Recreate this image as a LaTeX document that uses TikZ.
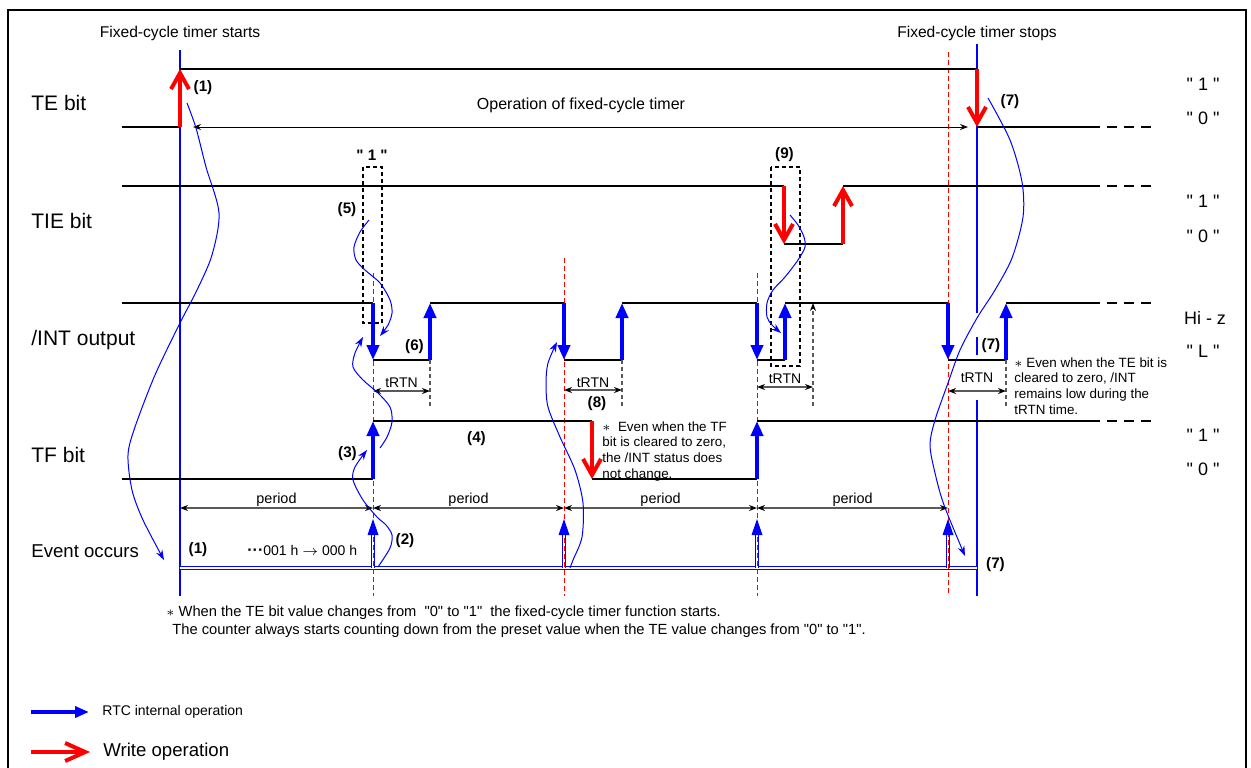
\documentclass[tikz,border=0pt]{standalone}
\usepackage{fontspec}
\setmainfont{Liberation Sans}
\usetikzlibrary{arrows.meta}

\newcommand{\fsz}[1]{\fontsize{#1}{#1}\selectfont}
\newcommand{\qt}{\textquotedbl}

\begin{document}
\begin{tikzpicture}[x=0.5pt,y=-0.5pt]
\tikzstyle{every node}+=[inner sep=0pt]
\tikzstyle{wire}=[black,line width=1pt]
\tikzstyle{wiretail}=[black,line width=1pt,dash pattern=on 5pt off 3.5pt]
\tikzstyle{timeline}=[blue,line width=0.6pt]
\tikzstyle{eventmark}=[red,line width=0.5pt,dash pattern=on 2.5pt off 1.5pt]
\tikzstyle{wrarrow}=[red,line width=2pt,-{Straight Barb[length=8pt,width=9pt]}]
\tikzstyle{rtcarrow}=[blue,line width=2pt,-{Triangle[length=7.5pt,width=6pt]}]
\tikzstyle{evline}=[blue,line width=0.6pt,double=white,double distance=1pt]
\tikzstyle{evshaft}=[blue,line width=0.5pt,double=white,double distance=1pt]
\tikzstyle{dimline}=[gray!70!black,line width=0.7pt,{Stealth[black,length=4pt,width=3pt]}-{Stealth[black,length=4pt,width=3pt]}]
\tikzstyle{dimext}=[gray!70!black,line width=0.6pt,dash pattern=on 2pt off 1.5pt]
\tikzstyle{oparrow}=[black,line width=0.5pt,{Stealth[length=4pt,width=3pt]}-{Stealth[length=4pt,width=3pt]}]
\tikzstyle{hint}=[blue,line width=0.5pt,-{Stealth[length=5pt,width=3.5pt]}]
\tikzstyle{markbox}=[black,line width=1pt,dash pattern=on 2pt off 1.5pt]
\tikzstyle{stepno}=[font=\fsz{7.6}\bfseries]
\tikzstyle{rowname}=[anchor=base west,font=\fsz{10.5}]
\tikzstyle{levelname}=[anchor=base,font=\fsz{9}]
\tikzstyle{smalltext}=[anchor=base,font=\fsz{7}]
\tikzstyle{remark}=[anchor=base west,align=left,font=\fontsize{6.7}{7.8}\selectfont]
\useasboundingbox (0,0) rectangle (1251,767);
% frame
\draw [black,line width=1pt] (8,775) -- (8,10) -- (1246,10) -- (1246,775);
% start and stop of the fixed-cycle timer
\draw [timeline] (180,50) -- (180,596);
\draw [timeline] (977,44) -- (977,313);
\draw [timeline] (977,337) -- (977,355);
\draw [timeline] (977,400) -- (977,596);
\draw (180,37) node[smalltext,font=\fsz{7.8}] (tstart) {Fixed-cycle timer starts};
\draw (977,37) node[smalltext,font=\fsz{7.8}] (tstop) {Fixed-cycle timer stops};
% row names
\draw (31,110) node[rowname] (nTE) {TE bit};
\draw (31,228) node[rowname] (nTIE) {TIE bit};
\draw (31,345) node[rowname] (nINT) {/INT output};
\draw (31,462) node[rowname] (nTF) {TF bit};
\draw (31,557) node[rowname,font=\fsz{9.3}] (nEV) {Event occurs};
% levels
\draw (1203,90) node[levelname] (vTEh) {\qt\ 1 \qt};
\draw (1203,124) node[levelname] (vTEl) {\qt\ 0 \qt};
\draw (1203,207) node[levelname] (vTIEh) {\qt\ 1 \qt};
\draw (1203,242) node[levelname] (vTIEl) {\qt\ 0 \qt};
\draw (1205,324) node[levelname] (vINTh) {Hi - z};
\draw (1203,357) node[levelname] (vINTl) {\qt\ L \qt};
\draw (1203,441) node[levelname] (vTFh) {\qt\ 1 \qt};
\draw (1203,475) node[levelname] (vTFl) {\qt\ 0 \qt};
% event line
\draw [evline] (180,568) -- (977,568);
\draw [evshaft] (373,568) -- (373,534);
\draw [evshaft] (564,568) -- (564,534);
\draw [evshaft] (757,568) -- (757,534);
\draw [evshaft] (948,568) -- (948,534);
% periods
\draw [eventmark] (373,273) -- (373,596);
\draw [eventmark] (564,258) -- (564,596);
\draw [eventmark] (757,273) -- (757,596);
\draw [eventmark] (948,52) -- (948,596);
\fill [blue] (373,519) -- (367.5,535) -- (378.5,535) -- cycle;
\fill [blue] (564,519) -- (558.5,535) -- (569.5,535) -- cycle;
\fill [blue] (757,519) -- (751.5,535) -- (762.5,535) -- cycle;
\fill [blue] (948,519) -- (942.5,535) -- (953.5,535) -- cycle;
% TE bit
\draw [wire] (122,127) -- (180,127);
\draw [wire] (180,69) -- (977,69);
\draw [wire] (977,127) -- (1090,127);
\draw [wiretail] (1090,127) -- (1157,127);
\draw [wrarrow] (180,127) -- (180,69);
\draw [wrarrow] (977,69) -- (977,127);
\draw [oparrow] (193,127) -- (968,127);
\draw (581,109) node[anchor=base,font=\fsz{8}] (opname) {Operation of fixed-cycle timer};
% TIE bit
\draw [wire] (122,186) -- (784,186);
\draw [wire] (784,244) -- (843,244);
\draw [wire] (843,186) -- (1090,186);
\draw [wiretail] (1090,186) -- (1157,186);
\draw [wrarrow] (784,186) -- (784,244);
\draw [wrarrow] (843,244) -- (843,186);
\draw [markbox] (363,167) rectangle (382,323);
\draw [markbox] (771,167) rectangle (800,366);
% /INT output
\draw [wire] (122,303) -- (373,303);
\draw [wire] (373,360) -- (430,360);
\draw [wire] (430,303) -- (564,303);
\draw [wire] (564,360) -- (622,360);
\draw [wire] (622,303) -- (757,303);
\draw [wire] (757,360) -- (785,360);
\draw [wire] (785,303) -- (948,303);
\draw [wire] (948,360) -- (1006,360);
\draw [wire] (1006,303) -- (1090,303);
\draw [wiretail] (1090,303) -- (1157,303);
\draw [rtcarrow] (373,303) -- (373,360);
\draw [rtcarrow] (430,360) -- (430,303);
\draw [rtcarrow] (564,303) -- (564,360);
\draw [rtcarrow] (622,360) -- (622,303);
\draw [rtcarrow] (757,303) -- (757,360);
\draw [rtcarrow] (785,360) -- (785,303);
\draw [rtcarrow] (948,303) -- (948,360);
\draw [rtcarrow] (1006,360) -- (1006,303);
% tRTN
\draw [dimext] (430,360) -- (430,406);
\draw [dimext] (622,360) -- (622,406);
\draw [dimext,-{Stealth[black,length=4pt,width=3pt]}] (813,406) -- (813,303);
\draw [dimext] (1006,360) -- (1006,406);
\draw [dimline] (373,391) -- (430,391);
\draw [dimline] (564,390) -- (622,390);
\draw [dimline] (757,387) -- (813,387);
\draw [dimline] (948,391) -- (1006,391);
\draw (401.5,387) node[smalltext] (tr1) {tRTN};
\draw (593,387) node[smalltext] (tr2) {tRTN};
\draw (785,383) node[smalltext] (tr3) {tRTN};
\draw (977,382) node[smalltext] (tr4) {tRTN};
% TF bit
\draw [wire] (122,479) -- (373,479);
\draw [wire] (373,421) -- (592,421);
\draw [wire] (592,479) -- (757,479);
\draw [wire] (757,421) -- (1090,421);
\draw [wiretail] (1090,421) -- (1157,421);
\draw [rtcarrow] (373,479) -- (373,421);
\draw [wrarrow] (592,421) -- (592,479);
\draw [rtcarrow] (757,479) -- (757,421);
% period
\draw [dimline] (180,508) -- (373,508);
\draw [dimline] (373,508) -- (564,508);
\draw [dimline] (564,508) -- (757,508);
\draw [dimline] (757,508) -- (948,508);
\draw (276.5,503) node[smalltext,font=\fsz{7.2}] (pd1) {period};
\draw (468.5,503) node[smalltext,font=\fsz{7.2}] (pd2) {period};
\draw (660.5,503) node[smalltext,font=\fsz{7.2}] (pd3) {period};
\draw (852.5,503) node[smalltext,font=\fsz{7.2}] (pd4) {period};
% step numbers
\draw (203,87.5) node[stepno] (s1a) {(1)};
\draw (1010,101.5) node[stepno] (s7a) {(7)};
\draw (372,155) node[stepno] (s1box) {\qt\ 1 \qt};
\draw (784.5,155) node[stepno] (s9) {(9)};
\draw (347,209.5) node[stepno] (s5) {(5)};
\draw (414.5,346.5) node[stepno] (s6) {(6)};
\draw (991,345.5) node[stepno] (s7b) {(7)};
\draw (597,403.5) node[stepno] (s8) {(8)};
\draw (347.5,453.5) node[stepno] (s3) {(3)};
\draw (476.5,438.5) node[stepno] (s4) {(4)};
\draw (198,550) node[stepno] (s1b) {(1)};
\draw (405,540.5) node[stepno] (s2) {(2)};
\draw (995.5,564.5) node[stepno] (s7c) {(7)};
\draw (247,555) node[anchor=base west,font=\fsz{7}] (cnt) {{\bfseries\fsz{8}\textperiodcentered\textperiodcentered\textperiodcentered}001 h $\rightarrow$ 000 h};
% remarks (anchored at the last line)
\draw (602,478) node[remark] (note8) {$\ast$\ \ Even when the TF\\bit is cleared to zero,\\the /INT status does\\not change.};
\draw (1014,414) node[remark] (note7) {$\ast$ Even when the TE bit is\\cleared to zero, /INT\\remains low during the\\tRTN time.};
\draw (166,616) node[anchor=base west,font=\fsz{7.35}] (fn1) {$\ast$ When the TE bit value changes from \ \qt0\qt\ to \qt1\qt\ \ the fixed-cycle timer function starts.};
\draw (172,634) node[anchor=base west,font=\fsz{7.35}] (fn2) {The counter always starts counting down from the preset value when the TE value changes from \qt0\qt\ to \qt1\qt.};
% how one step leads to the next
\coordinate (h1a) at (187,103);
\coordinate (h1b) at (164,560);
\coordinate (h5a) at (369,220);
\coordinate (h5b) at (380,336);
\coordinate (h2a) at (378,567);
\coordinate (h2b) at (367,450);
\coordinate (h3a) at (380,448);
\coordinate (h3b) at (363,337);
\coordinate (h4a) at (570,568);
\coordinate (h4b) at (557,342);
\coordinate (h9a) at (790,215);
\coordinate (h9b) at (781,333);
\coordinate (h7a) at (988,98);
\coordinate (h7b) at (965,556);
\draw [hint] plot [smooth] coordinates {(h1a) (196,128) (206,167) (219,213) (212,255) (197,290) (180,323) (155,375) (135,427) (128,455) (132,490) (143,520) (h1b)};
\draw [hint] plot [smooth] coordinates {(h5a) (360,232) (354,247) (356,260) (365,270) (380,283) (390,300) (392,313) (388,325) (h5b)};
\draw [hint] plot [smooth] coordinates {(h2a) (390,548) (392,535) (386,525) (377,517) (363,500) (353,480) (355,467) (h2b)};
\draw [hint] plot [smooth] coordinates {(h3a) (387,437) (392,422) (390,407) (378,393) (363,380) (353,367) (355,353) (h3b)};
\draw [hint] plot [smooth] coordinates {(h4a) (573,560) (582,537) (583,503) (575,470) (560,437) (548,407) (546,383) (548,363) (h4b)};
\draw [hint] plot [smooth] coordinates {(h9a) (798,225) (804,237) (805,247) (798,260) (785,277) (773,290) (767,303) (767,317) (772,325) (h9b)};
\draw [hint] plot [smooth] coordinates {(h7a) (1010,140) (1022,182) (1023,217) (1012,258) (995,290) (977,318) (960,350) (948,383) (935,420) (930,445) (935,473) (944,505) (h7b)};
% legend
\coordinate (lgb1) at (31,712);
\coordinate (lgb2) at (89,712);
\coordinate (lgr1) at (31,752);
\coordinate (lgr2) at (90,752);
\draw [blue,line width=2.3pt,-{Triangle[length=7pt,width=5.5pt]}] (lgb1) -- (lgb2);
\draw [red,line width=2pt,-{Straight Barb[length=10pt,width=9pt]}] (lgr1) -- (lgr2);
\draw (102,715) node[anchor=base west,font=\fsz{7}] (lgrtc) {RTC internal operation};
\draw (103,756) node[anchor=base west,font=\fsz{9.3}] (lgwr) {Write operation};
\end{tikzpicture}
\end{document}
